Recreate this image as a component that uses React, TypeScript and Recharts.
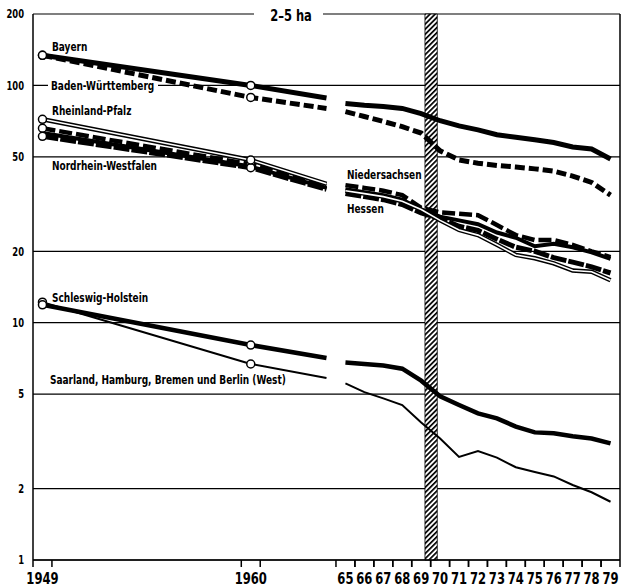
import React from 'react';
import { LineChart, Line, XAxis, YAxis, CartesianGrid, ReferenceArea, ReferenceLine, Customized } from 'recharts';

// x values (1964.5 = break in the series)
const years = [1949, 1960, 1964, 1964.5, 1965, 1966, 1967, 1968, 1969, 1970, 1971, 1972, 1973, 1974, 1975, 1976, 1977, 1978, 1979];
const xLabelYears = [1949, 1960, 1965, 1966, 1967, 1968, 1969, 1970, 1971, 1972, 1973, 1974, 1975, 1976, 1977, 1978, 1979];
const yTicks = [1, 2, 5, 10, 20, 50, 100, 200];
const circleYears = [1949, 1960];

const bayern = [134, 100, 88.5, null, 84, 82.5, 81.5, 80, 76, 71, 67.5, 65, 62, 60.5, 59, 57.5, 55, 54, 49];
const badenWuerttemberg = [134, 89, 80, null, 77.5, 74, 70.5, 67, 63, 53, 48.5, 47, 46, 45.3, 44.5, 43.5, 41.5, 39, 34.5];
const rheinlandPfalz = [72, 48.5, 38.5, null, 36, 35, 34, 32.5, 30, 27, 24.6, 23.4, 21.3, 19.3, 18.7, 17.8, 16.6, 16.4, 15.1];
const nordrheinWestfalen = [61, 45, 36.5, null, 35, 34, 33, 31.5, 29, 27.5, 25.5, 24.5, 22.5, 20.8, 20, 18.8, 18, 17.2, 16.2];
const niedersachsen = [66, 46.5, 38, null, 38, 37, 36, 34.5, 30.5, 29.2, 28.8, 28.4, 25.8, 23.4, 22.3, 22.3, 21.3, 20, 18.9];
const hessen = [63, 45.5, 37, null, 36.5, 35.5, 34.5, 33, 30, 28, 27, 26, 24, 22.8, 21, 21.5, 20.8, 19.8, 18.6];
const schleswigHolstein = [11.9, 8.05, 7.1, null, 6.8, 6.7, 6.6, 6.4, 5.7, 4.9, 4.5, 4.15, 3.95, 3.65, 3.45, 3.42, 3.32, 3.25, 3.1];
const saarlandEtc = [12.2, 6.7, 5.85, null, 5.55, 5.1, 4.8, 4.5, 3.8, 3.25, 2.72, 2.88, 2.7, 2.46, 2.35, 2.25, 2.07, 1.93, 1.76];

const hatchBand = [1969.2, 1969.85];
const xDomain = [1948.5, 1979.5];

const data = years.map((year, i) => ({
  year,
  bayern: bayern[i],
  badenWuerttemberg: badenWuerttemberg[i],
  rheinlandPfalz: rheinlandPfalz[i],
  nordrheinWestfalen: nordrheinWestfalen[i],
  niedersachsen: niedersachsen[i],
  hessen: hessen[i],
  schleswigHolstein: schleswigHolstein[i],
  saarlandEtc: saarlandEtc[i],
}));

const FONT = "'DejaVu Sans Condensed','DejaVu Sans',sans-serif";
const HALF_YEAR_PX = (620 - 33) / 31 / 2;

const CText = ({ x, y, size, sx = 0.8, anchor = 'start', dy, children }: any) => (
  <text
    transform={`translate(${x},${y}) scale(${sx},1)`}
    x={0}
    y={0}
    dy={dy}
    textAnchor={anchor}
    fontFamily={FONT}
    fontWeight="bold"
    fontSize={size}
    fill="#000"
  >
    {children}
  </text>
);

const CircleDot = (props: any) => {
  const { cx, cy, payload, index } = props;
  if (!payload || !circleYears.includes(payload.year) || cy == null || isNaN(cy)) {
    return <g key={`d-${index}`} />;
  }
  return <circle key={`d-${index}`} cx={cx} cy={cy} r={4} fill="#fff" stroke="#000" strokeWidth={1.5} />;
};

const XTick = (props: any) => {
  const { x, y, payload } = props;
  const v = payload.value;
  const label = v < 1961 ? String(v) : String(v - 1900);
  return (
    <g>
      <line x1={x - HALF_YEAR_PX} x2={x - HALF_YEAR_PX} y1={y} y2={y + 7} stroke="#000" strokeWidth={1.5} />
      <line x1={x + HALF_YEAR_PX} x2={x + HALF_YEAR_PX} y1={y} y2={y + 7} stroke="#000" strokeWidth={1.5} />
      <CText x={x} y={y + 24} size={15} sx={0.86} anchor="middle">{label}</CText>
    </g>
  );
};

const YTick = (props: any) => {
  const { y, payload } = props;
  return <CText x={24} y={y} dy="0.36em" size={12} sx={0.78} anchor="end">{payload.value}</CText>;
};

const Labels = () => {
  const t = (x: number, y: number, s: string) => <CText x={x} y={y} size={12.5} sx={0.8}>{s}</CText>;
  return (
    <g>
      <rect x={254} y={6} width={69} height={16} fill="#fff" />
      <CText x={291} y={21} size={16} sx={0.8} anchor="middle">2–5 ha</CText>
      <rect x={48} y={79} width={110} height={13} fill="#fff" />
      {t(52, 51, 'Bayern')}
      {t(51, 90, 'Baden-Württemberg')}
      {t(52, 115, 'Rheinland-Pfalz')}
      {t(52, 170, 'Nordrhein-Westfalen')}
      {t(347, 179, 'Niedersachsen')}
      {t(347, 213, 'Hessen')}
      {t(52, 302, 'Schleswig-Holstein')}
      {t(50, 384, 'Saarland, Hamburg, Bremen und Berlin (West)')}
    </g>
  );
};

export default function App() {
  return (
    <div style={{ position: 'absolute', left: 0, top: 0, width: 639, height: 588, background: '#fff' }}>
      <LineChart width={639} height={588} data={data} margin={{ top: 14, right: 19, bottom: 0, left: 0 }}>
        <defs>
          <pattern id="hatch" width="3.6" height="3.6" patternUnits="userSpaceOnUse" patternTransform="rotate(45)">
            <rect width="3.6" height="3.6" fill="#fff" />
            <line x1="0" y1="0" x2="0" y2="3.6" stroke="#000" strokeWidth="3.4" />
          </pattern>
        </defs>
        <CartesianGrid vertical={false} stroke="#000" strokeWidth={1.2} />
        <XAxis
          dataKey="year"
          type="number"
          domain={xDomain}
          ticks={xLabelYears}
          interval={0}
          allowDataOverflow
          height={28}
          tickLine={false}
          tickSize={0}
          tickMargin={0}
          tick={<XTick />}
          axisLine={{ stroke: '#000', strokeWidth: 1.5 }}
        />
        <YAxis
          scale="log"
          domain={[1, 200]}
          ticks={yTicks}
          interval={0}
          allowDataOverflow
          width={33}
          tickLine={false}
          tick={<YTick />}
          axisLine={{ stroke: '#000', strokeWidth: 1.5 }}
        />
        <ReferenceArea x1={hatchBand[0]} x2={hatchBand[1]} fill="url(#hatch)" fillOpacity={1} stroke="#000" strokeWidth={0.8} />
        <ReferenceLine x={xDomain[1]} stroke="#000" strokeWidth={1.5} />
        <Customized component={Labels} />
        <Line dataKey="saarlandEtc" stroke="#000" strokeWidth={2} dot={<CircleDot />} isAnimationActive={false} connectNulls={false} />
        <Line dataKey="schleswigHolstein" stroke="#000" strokeWidth={4.5} dot={<CircleDot />} isAnimationActive={false} connectNulls={false} />
        <Line dataKey="hessen" stroke="#000" strokeWidth={4} dot={false} isAnimationActive={false} connectNulls={false} />
        <Line dataKey="niedersachsen" stroke="#000" strokeWidth={4.5} strokeDasharray="13 4" dot={<CircleDot />} isAnimationActive={false} connectNulls={false} />
        <Line dataKey="nordrheinWestfalen" stroke="#000" strokeWidth={5} strokeDasharray="16 2" dot={<CircleDot />} isAnimationActive={false} connectNulls={false} />
        <Line dataKey="rheinlandPfalz" stroke="#000" strokeWidth={4.5} dot={false} isAnimationActive={false} connectNulls={false} />
        <Line dataKey="rheinlandPfalz" stroke="#fff" strokeWidth={1.6} dot={<CircleDot />} isAnimationActive={false} connectNulls={false} />
        <Line dataKey="badenWuerttemberg" stroke="#000" strokeWidth={5} strokeDasharray="10 4" dot={<CircleDot />} isAnimationActive={false} connectNulls={false} />
        <Line dataKey="bayern" stroke="#000" strokeWidth={5} dot={<CircleDot />} isAnimationActive={false} connectNulls={false} />
      </LineChart>
    </div>
  );
}
